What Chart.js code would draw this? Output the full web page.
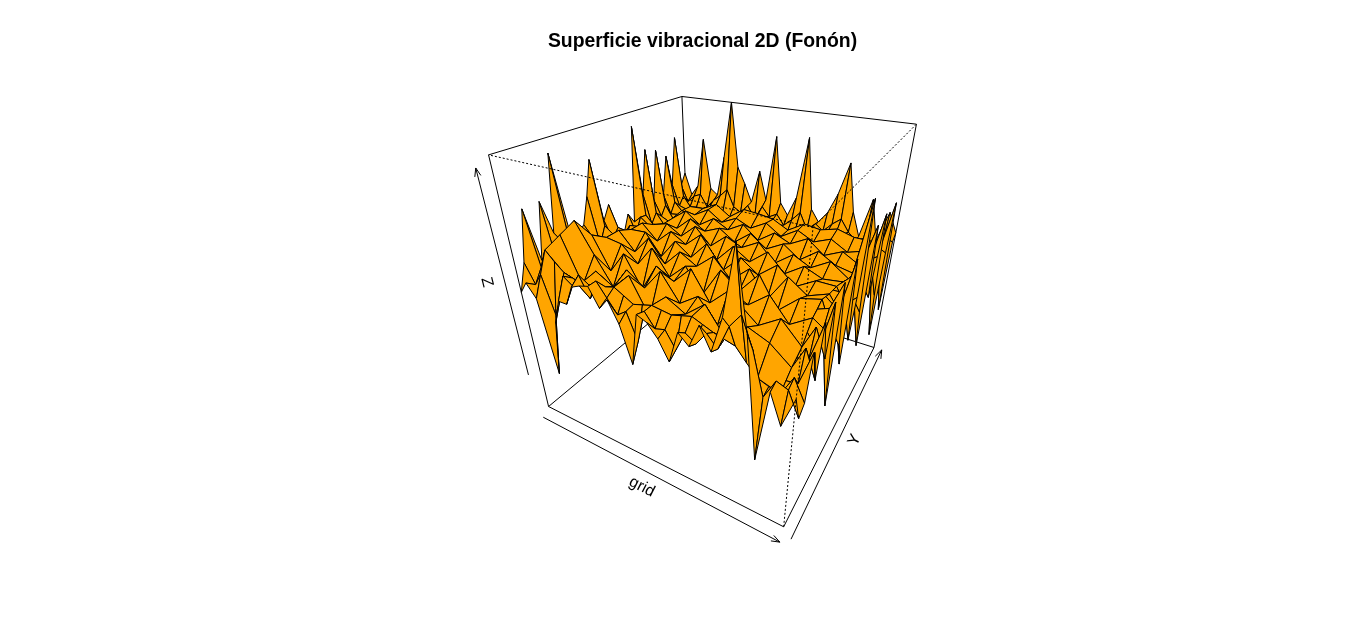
<!DOCTYPE html>
<html>
<head>
<meta charset="utf-8">
<title>Superficie vibracional 2D (Fonón)</title>
<script src="https://cdn.jsdelivr.net/npm/chart.js@4.4.0/dist/chart.umd.js"></script>
<style>
  html, body { margin: 0; padding: 0; background: #fff; overflow: hidden; }
  canvas { display: block; }
</style>
</head>
<body>
<canvas id="chart" width="1366" height="642"></canvas>
<script>
// grid positions (same for both horizontal axes), 29 points
const grid = [-1, -0.929, -0.857, -0.786, -0.714, -0.643, -0.571, -0.5, -0.429, -0.357, -0.286, -0.214, -0.143, -0.071, 0,
    0.071, 0.143, 0.214, 0.286, 0.357, 0.429, 0.5, 0.571, 0.643, 0.714, 0.786, 0.857, 0.929, 1];

// surface heights, front row first (Y low to high)
const row00 = [.055,.15,.05,-.57,-.1,.1,.1,.25,.28,.3,.165,.25,.1,-.18,.22,.19,.1,-.04,.2,.13,.3,.15,.4,.85,.35,-.53,.03,-.18,.05];
const row01 = [.25,.1,.2,-.1,.05,.25,.2,.3,.15,.3,.2,.1,.15,-.05,.2,.1,.12,0,.15,.1,.2,.12,.3,.4,.2,-.1,.05,.02,-.15];
const row02 = [.61,.2,.35,.28,.22,.2,.18,.19,.2,.22,.24,.2,.16,.18,.2,.19,.18,.2,.22,.19,.16,.14,.12,.03,-.05,-.08,-.1,.05,-.1];
const row03 = [.2,.28,.37,.3,.12,.2,-.02,.15,.06,.22,.1,.18,.03,.2,.09,.15,.02,.2,.12,.19,.05,.18,.08,-.02,.14,.02,-.06,-.05,.2];
const row04 = [.61,.15,.4,.1,.05,.03,.2,.1,.12,.02,.25,.08,-.02,.05,.18,.11,.1,.04,.22,.06,.02,.1,.16,.1,.1,.18,-.02,.15,-.05];
const row05 = [.35,.3,.42,.25,.06,.18,.1,.2,.04,.17,.09,.2,.02,.15,.08,.22,.06,.16,.1,.2,.03,.15,.07,.2,.1,.04,0,.02,.3];
const row06 = [.9,.2,.45,.08,.22,.1,0,.15,.18,.22,.08,.12,.25,.08,.05,.02,.15,.1,-.02,.05,.2,.09,.08,.02,.18,.12,.03,.2,0];
const row07 = [.3,.35,.36,.22,.03,.19,.12,.04,.2,.07,.16,.02,.14,.2,.05,.15,.08,.2,.02,.17,.1,.21,.04,.14,.06,.2,.09,-.02,.35];
const row08 = [.25,.12,.28,.05,.02,.06,.2,.1,-.05,.16,.18,.2,.1,.12,.24,.06,.02,.03,.16,.09,.1,.02,.22,.08,.05,.02,.15,.1,-.49];
const row09 = [.3,.22,.24,.2,.1,.16,.02,.18,.12,.05,.2,.07,.17,.03,.13,.2,.06,.16,.1,.22,.04,.14,.1,.2,.03,.16,.17,.2,.4];
const row10 = [.5,.12,.2,.05,.18,.04,.05,.08,.22,.1,.02,.16,.15,.2,-.03,.14,.2,.05,.08,.08,.25,.03,.02,.06,.16,.1,.2,.02,-.1];
const row11 = [.76,.25,.2,.18,.02,.2,.1,.16,.04,.18,.12,.03,.19,.07,.15,.02,.2,.12,.05,.17,.1,.2,.04,.15,.08,.18,.18,.12,-.3];
const row12 = [.25,.1,.2,.08,.05,.06,.2,.02,.02,.08,.16,.1,.08,.16,.2,.2,.05,.14,.18,.03,-.02,.07,.2,.05,.1,.04,.16,.06,.45];
const row13 = [.36,.18,.17,.16,.1,.2,.05,.17,.1,.18,.04,.15,.2,.06,.18,.08,.14,.02,.12,.2,.06,.17,.03,.16,.08,.2,.15,.15,-.2];
const row14 = [.1,.05,.15,.03,.16,.07,-.02,.04,.15,.06,.05,.02,.2,.18,.02,.15,.16,.19,.06,.14,.18,.18,.05,.05,.14,.03,.14,.02,.1];
const row15 = [.05,.14,.15,.17,.04,.15,.1,.18,.02,.14,.08,.19,.06,.13,.03,.16,.05,.12,.18,.04,.16,.09,.15,.03,.12,.18,.12,.2,.76];
const row16 = [.2,.04,.15,.07,.02,.02,.14,.06,.06,.18,.18,.14,0,.17,.15,.02,.06,.06,.18,.18,.04,.12,.14,.16,.08,.14,.1,.02,-.1];
const row17 = [.1,.16,.11,.14,.06,.18,.08,.14,.04,.1,.17,.05,.15,.02,.14,.08,.18,.04,.1,.02,.16,.06,.14,.08,.18,.03,.07,-.02,-.44];
const row18 = [.89,.15,.08,.16,.12,.12,.04,.02,.16,.06,.02,.16,.14,.12,.08,.16,.16,.13,.02,.15,.13,.13,.06,.15,.15,.12,.05,.18,.5];
const row19 = [.3,.04,.05,.02,.16,.06,.1,.15,.05,.16,.02,.1,.15,.05,.13,.03,.12,.06,.15,.03,.12,.05,.14,.02,.14,.06,.03,.02,-.1];
const row20 = [.67,.12,.03,.15,.02,.12,.14,.1,.06,.04,.12,.06,.03,.02,.14,.07,.04,.02,.12,.06,.02,.02,.13,.13,.05,.12,.02,.15,.2];
const row21 = [.2,.06,.03,.04,.12,.02,.15,.05,.1,.14,.03,.12,.05,.13,.03,.11,.05,.14,.03,.12,.05,.13,.04,.1,.14,.03,.02,.06,.5];
const row22 = [.63,.14,.03,.13,.13,.14,.03,.12,.12,.1,.05,.04,.13,.06,.02,.02,.12,.05,.06,.02,.14,.06,.03,.03,.1,.14,.02,.1,-.2];
const row23 = [.2,.03,.04,.05,.14,.02,.1,.04,.13,.05,.1,.14,.03,.11,.05,.13,.03,.1,.06,.13,.03,.11,.05,.13,.02,.1,.05,.02,-.62];
const row24 = [.54,.12,.05,.14,.04,.11,.12,.13,.03,.12,.1,.1,.04,.03,.12,.05,.03,.03,.12,.04,.05,.14,.11,.1,.03,.02,.08,.14,.1];
const row25 = [.25,.06,.04,.02,.1,.13,.03,.1,.12,.03,.11,.04,.1,.13,.03,.11,.04,.13,.02,.1,.12,.04,.12,.02,.11,.05,.09,.02,.48];
const row26 = [.67,.13,.04,.05,.05,.08,.12,.07,.03,.08,.13,.12,.12,.11,.1,.06,.03,.07,.12,.11,.1,.12,.14,.12,.1,.1,.1,.05,-.5];
const row27 = [.2,.05,.12,.15,.04,.12,.18,.25,.1,.06,.14,.03,.16,.08,.12,.03,.1,.18,.04,.11,.06,.14,.2,.1,.04,.08,.02,.12,.1];
const row28 = [.3,.1,.2,.65,.2,.15,.52,1,.45,.31,.15,.45,.2,.77,.2,.1,.28,.8,.2,.1,.2,.38,.65,.25,.05,.39,.05,.31,.15];
const zRows = [row00, row01, row02, row03, row04, row05, row06, row07, row08, row09, row10, row11, row12, row13, row14,
    row15, row16, row17, row18, row19, row20, row21, row22, row23, row24, row25, row26, row27, row28];

// view, same meaning as persp()
const theta = 30, phi = 30, r = Math.sqrt(3), d = 1;

const chartTitle = 'Superficie vibracional 2D (Fonón)';
const xLabel = 'grid', yLabel = 'Y', zLabel = 'Z';

const sinT = Math.sin(theta * Math.PI / 180), cosT = Math.cos(theta * Math.PI / 180);
const sinP = Math.sin(phi * Math.PI / 180), cosP = Math.cos(phi * Math.PI / 180);

function project(x, y, z) {
    const a = x * sinT - y * cosT;
    const vx = x * cosT + y * sinT;
    const vy = z * cosP - a * sinP;
    const vz = z * sinP + a * cosP;
    const w = 1 + (r + d - vz) / d;
    return { x: vx / w, y: vy / w };
}

function lineSet(points, extra) {
    return Object.assign({
        data: points,
        showLine: true,
        borderColor: '#000',
        borderWidth: 1,
        pointRadius: 0,
        fill: false,
        tension: 0,
        clip: false
    }, extra || {});
}

function edge(a, b, extra) {
    return lineSet([project(a[0], a[1], a[2]), project(b[0], b[1], b[2])], extra);
}

// axis line with an open arrow head at its far end
function arrow(a, b) {
    const p = project(a[0], a[1], a[2]), q = project(b[0], b[1], b[2]);
    const ang = Math.atan2(q.y - p.y, q.x - p.x);
    const len = 0.018, spread = 0.35;
    return [
        lineSet([p, q]),
        lineSet([
            { x: q.x - len * Math.cos(ang - spread), y: q.y - len * Math.sin(ang - spread) },
            q,
            { x: q.x - len * Math.cos(ang + spread), y: q.y - len * Math.sin(ang + spread) }
        ])
    ];
}

const sets = [];

// back part of the box, under the surface
[
    [[-1, -1, -1], [1, -1, -1]], [[1, -1, -1], [1, 1, -1]], [[1, 1, -1], [-1, 1, -1]], [[-1, 1, -1], [-1, -1, -1]],
    [[-1, -1, -1], [-1, -1, 1]], [[1, 1, -1], [1, 1, 1]], [[-1, 1, -1], [-1, 1, 1]],
    [[-1, -1, 1], [-1, 1, 1]], [[-1, 1, 1], [1, 1, 1]]
].forEach(e => sets.push(edge(e[0], e[1])));

// facets: fine along the rim where the spikes are, every second line inside
const last = grid.length - 1;
const tiles = [];
for (let j = 0; j < last; j++) {
    for (let i = 0; i < last; i++) {
        const rim = i < 2 || i >= last - 2 || j < 2 || j >= last - 2;
        if (rim) tiles.push([i, j, 1]);
        else if (i % 2 === 0 && j % 2 === 0) tiles.push([i, j, 2]);
    }
}
const depth = t => {
    const cx = (grid[t[0]] + grid[t[0] + t[2]]) / 2, cy = (grid[t[1]] + grid[t[1] + t[2]]) / 2;
    return cx * sinT - cy * cosT;
};
tiles.sort((p, q) => depth(p) - depth(q));
tiles.forEach(([i, j, s]) => {
    const pts = [
        project(grid[i], grid[j], zRows[j][i]),
        project(grid[i + s], grid[j], zRows[j][i + s]),
        project(grid[i + s], grid[j + s], zRows[j + s][i + s]),
        project(grid[i], grid[j + s], zRows[j + s][i])
    ];
    pts.push(pts[0]);
    sets.push(lineSet(pts, { fill: 'shape', backgroundColor: 'orange' }));
});

// front edges of the box go dotted over the surface
[
    [[1, -1, -1], [1, -1, 1]], [[1, -1, 1], [-1, -1, 1]], [[1, -1, 1], [1, 1, 1]]
].forEach(e => sets.push(edge(e[0], e[1], { borderDash: [2, 2] })));

// axes
sets.push(...arrow([-0.95, -1.1, -1], [1.02, -1.1, -1]));
sets.push(...arrow([1.07, -1.05, -1], [1.07, 1, -1]));
sets.push(...arrow([-1, -1.1, -0.6], [-1, -1.1, 0.95]));

// plot window: equal units on both axes, 4% extra as in R
const corners = [];
[-1, 1].forEach(x => [-1, 1].forEach(y => [-1, 1].forEach(z => corners.push(project(x, y, z)))));
const xs = corners.map(c => c.x), ys = corners.map(c => c.y);
const yMid = (Math.max(...ys) + Math.min(...ys)) / 2;
const xMid = (Math.max(...xs) + Math.min(...xs)) / 2;
const yHalf = (Math.max(...ys) - Math.min(...ys)) * 0.54;
const padLeft = 79, padRight = 40, padBottom = 98, blockTop = 79;
const xHalf = yHalf * (1366 - padLeft - padRight) / (642 - blockTop - padBottom);

const axisText = {
    id: 'axisText',
    afterDraw(chart) {
        const { ctx, scales } = chart;
        const put = (label, at, deg) => {
            const p = project(at[0], at[1], at[2]);
            ctx.save();
            ctx.translate(scales.x.getPixelForValue(p.x), scales.y.getPixelForValue(p.y));
            ctx.rotate(deg * Math.PI / 180);
            ctx.font = '16px "Liberation Sans"';
            ctx.fillStyle = '#000';
            ctx.textAlign = 'center';
            ctx.textBaseline = 'middle';
            ctx.fillText(label, 0, 0);
            ctx.restore();
        };
        put(xLabel, [0.08, -1.21, -1], 27);
        put(yLabel, [1.17, -0.13, -1], -64);
        put(zLabel, [-1, -1.22, 0.25], 76);
    }
};

Chart.defaults.font.family = '"Liberation Sans"';

new Chart(document.getElementById('chart'), {
    type: 'scatter',
    data: { datasets: sets.reverse() },
    options: {
        responsive: false,
        animation: false,
        devicePixelRatio: 1,
        events: [],
        layout: { padding: { left: padLeft, right: padRight, bottom: padBottom, top: 0 } },
        scales: {
            x: { type: 'linear', display: false, min: xMid - xHalf, max: xMid + xHalf },
            y: { type: 'linear', display: false, min: yMid - yHalf, max: yMid + yHalf }
        },
        plugins: {
            legend: { display: false },
            tooltip: { enabled: false },
            title: {
                display: true,
                text: chartTitle,
                fullSize: false,
                color: '#000',
                font: { size: 19.4, weight: 'bold', lineHeight: 1.2 },
                padding: { top: 30, bottom: 26 }
            }
        }
    },
    plugins: [axisText]
});
</script>
</body>
</html>
